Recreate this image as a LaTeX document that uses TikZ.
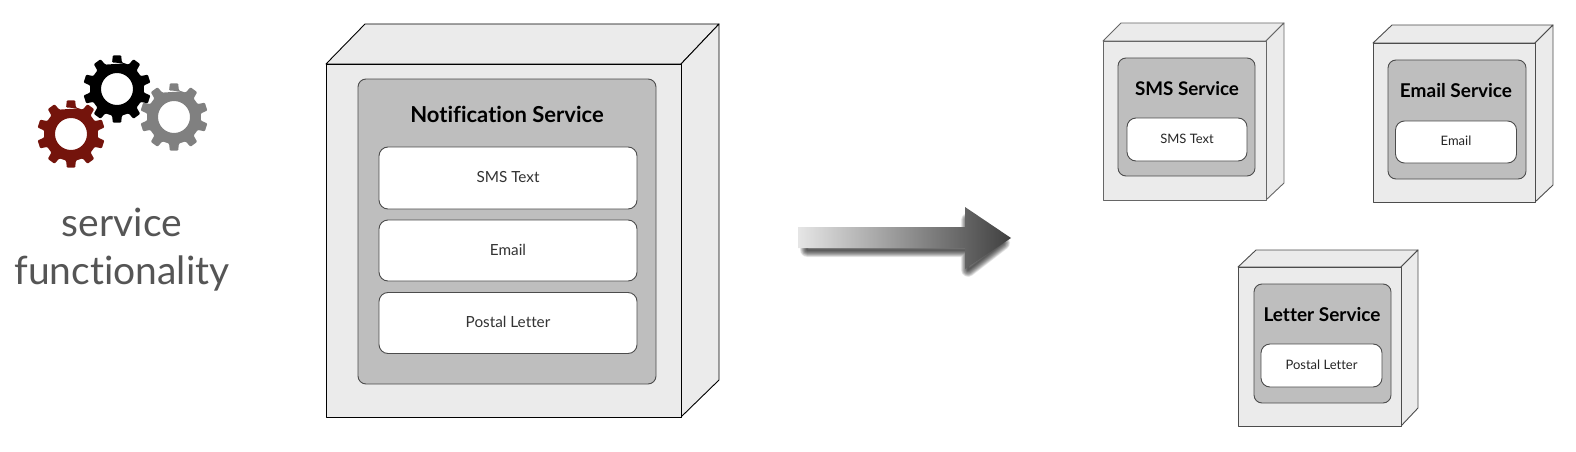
\documentclass[tikz,border=0pt]{standalone}
\usepackage{fontspec}
\setmainfont[Ligatures=NoCommon]{Lato}
\usetikzlibrary{calc}
\definecolor{cubefill}{HTML}{EBEBEB}
\definecolor{innerfill}{HTML}{BEBEBE}
\definecolor{gearred}{HTML}{74140C}
\definecolor{geargray}{HTML}{808080}
\definecolor{txtgray}{HTML}{555555}
\tikzset{
  cubeface/.style={draw=#1,fill=cubefill,line width=.9pt,line join=round},
  cubeface/.default=black,
  innerbox/.style={draw=black!70,fill=innerfill,rounded corners=8pt,line width=.9pt,inner sep=0pt},
  itembox/.style={draw=black!70,fill=white,rounded corners=9pt,line width=.9pt,inner sep=0pt},
  smalltext/.style={text=black!80,font=\fontsize{15.3}{17}\selectfont,inner sep=0pt,yshift=1pt},
  tinytext/.style={text=black!85,font=\fontsize{13}{15}\selectfont,inner sep=0pt,yshift=1pt},
  titletext/.style={text=black,font=\bfseries\fontsize{#1}{24}\selectfont,inner sep=0pt},
  bigtext/.style={text=txtgray,font=\fontsize{39}{42}\selectfont,inner sep=0pt},
  arrowglow/.style={draw=black,draw opacity=.07,line join=round,fill=none},
}
\newcommand{\mycube}[9][black]{%
  \path[cubeface=#1] (#2,#4) -- (#6,#8) -- (#7,#8) -- (#3,#4) -- cycle;
  \path[cubeface=#1] (#3,#4) -- (#7,#8) -- (#7,#9) -- (#3,#5) -- cycle;
  \path[cubeface=#1] (#2,#4) rectangle (#3,#5);
}
\begin{document}
\begin{tikzpicture}[x=1pt,y=-1pt]
\useasboundingbox (0,0) rectangle (1576,452);
% gears
\foreach \cx/\cy/\col in {174/117/geargray,71/134/gearred,117/89/black}{
  \fill[\col,even odd rule,rounded corners=1pt]
    ($(\cx,\cy)+(-72:27)$)
    \foreach \k in {0,...,9}{
      -- ($(\cx,\cy)+({-90+36*\k-10.5}:27)$)
      -- ($(\cx,\cy)+({-90+36*\k-7}:34)$)
      -- ($(\cx,\cy)+({-90+36*\k+7}:34)$)
      -- ($(\cx,\cy)+({-90+36*\k+10.5}:27)$)
    } -- cycle
    (\cx,\cy) circle[radius=16];
}
\node[bigtext] (svc) at (122,222) {service};
\node[bigtext] (fun) at (122,273) {functionality};
% big cube
\mycube{326}{681}{64}{417}{365}{719}{24}{380}
\node[innerbox,minimum width=298pt,minimum height=305pt] (nbox) at (507,231.5) {};
\node[titletext=22] (ntitle) at (507,114) {Notification Service};
\node[itembox,minimum width=258pt,minimum height=62pt] (a1) at (508,178) {};
\node[smalltext] (a1t) at (a1.center) {SMS Text};
\node[itembox,minimum width=258pt,minimum height=61pt] (a2) at (508,250.5) {};
\node[smalltext] (a2t) at (a2.center) {Email};
\node[itembox,minimum width=258pt,minimum height=61pt] (a3) at (508,323) {};
\node[smalltext] (a3t) at (a3.center) {Postal Letter};
% arrow
\foreach \w in {1,2,...,14}{
  \path[arrowglow,line width=\w pt]
    (807,238) -- (968,238) -- (968,220) -- (1003,243) -- (968,270) -- (968,250) -- (807,250) -- cycle;
}
\shade[left color=black!10,right color=black!75]
  (798,227) -- (965,227) -- (965,207) -- (1011,238) -- (965,269) -- (965,248) -- (798,248) -- cycle;
% SMS
\mycube[black!60]{1103}{1266}{41}{200}{1121}{1284}{23}{183}
\node[innerbox,minimum width=137pt,minimum height=118pt] (sbox) at (1186.5,117) {};
\node[titletext=18.8] (st) at (1187,89) {SMS Service};
\node[itembox,minimum width=120pt,minimum height=43pt] (s1) at (1187,139.5) {};
\node[tinytext] (s1t) at (s1.center) {SMS Text};
% Email
\mycube[black!70]{1373}{1535}{43}{202}{1392}{1553}{25}{185}
\node[innerbox,minimum width=138pt,minimum height=119pt] (ebox) at (1457,119.5) {};
\node[titletext=19] (et) at (1456,91) {Email Service};
\node[itembox,minimum width=121pt,minimum height=42pt] (e1) at (1456,142) {};
\node[tinytext] (e1t) at (e1.center) {Email};
% Letter
\mycube[black!70]{1238}{1401}{267}{426}{1256}{1418}{250}{408}
\node[innerbox,minimum width=137pt,minimum height=119pt] (lbox) at (1322.5,343.5) {};
\node[titletext=19] (lt) at (1322,315) {Letter Service};
\node[itembox,minimum width=121pt,minimum height=43pt] (l1) at (1321.5,365.5) {};
\node[tinytext] (l1t) at (l1.center) {Postal Letter};
\end{tikzpicture}
\end{document}
